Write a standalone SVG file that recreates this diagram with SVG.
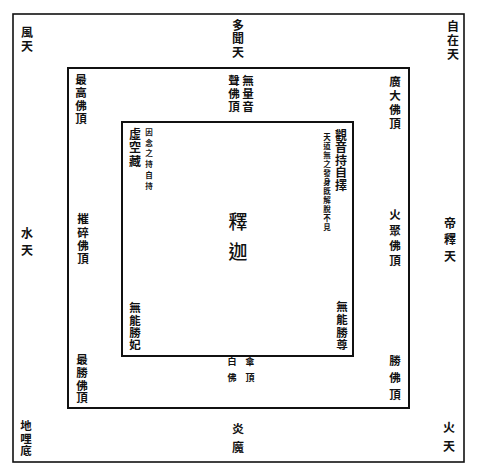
<svg xmlns="http://www.w3.org/2000/svg" width="477" height="476" viewBox="0 0 477 476">
<style>
.frame{fill:none;stroke:#111;stroke-linecap:square}
text{font-family:"Noto Sans CJK TC","Noto Sans CJK JP",sans-serif;fill:#111;font-weight:700;writing-mode:vertical-rl;text-anchor:start}
.l{font-size:12px}
.m{font-size:11.5px}
.s{font-size:7.5px}
.b{font-size:9px}
.c{font-size:19px;font-weight:500}
</style>
<rect width="477" height="476" fill="#fff"/>
<g id="frames">
<rect class="frame" x="13" y="14" width="451" height="448" stroke-width="1.6"/>
<rect class="frame" x="68" y="68" width="341" height="340" stroke-width="2"/>
<rect class="frame" x="122" y="122" width="231" height="234" stroke-width="2"/>
</g>
<g id="fuuten"><text class="l" x="27" y="26" letter-spacing="2">風天</text></g>
<g id="tamonten"><text class="l" x="238" y="19" letter-spacing="1.5">多聞天</text></g>
<g id="jizaiten"><text class="l" x="453" y="20" letter-spacing="2">自在天</text></g>
<g id="muryoonjo"><text class="m" x="248" y="75.25" letter-spacing="1.5">無量音</text><text class="m" x="234" y="75.25" letter-spacing="1.5">聲佛頂</text></g>
<g id="saiko"><text class="m" x="81" y="74.25" letter-spacing="1.5">最高佛頂</text></g>
<g id="kodai"><text class="m" x="395" y="76.25" letter-spacing="2.5">廣大佛頂</text></g>
<g id="kokuzo"><text class="l" x="135" y="128" letter-spacing="1.5">虛空藏</text><text class="s" x="149" y="128.25" letter-spacing="3.3">因念之持自持</text></g>
<g id="kannon"><text class="l" x="341" y="129" letter-spacing="0.5">觀音持自擇</text><text class="s" x="327" y="133.25" letter-spacing="1.5">天道無之發身既解脫不見</text></g>
<g id="saisai"><text class="m" x="83" y="213.25" letter-spacing="1.8">摧碎佛頂</text></g>
<g id="suiten"><text class="l" x="27" y="227" letter-spacing="5">水天</text></g>
<g id="kaju"><text class="m" x="395" y="209.25" letter-spacing="3.8">火聚佛頂</text></g>
<g id="taishakuten"><text class="l" x="450" y="217" letter-spacing="4.5">帝釋天</text></g>
<g id="shaka"><text class="c" x="238" y="212.5" letter-spacing="11">釋迦</text></g>
<g id="munoshohi"><text class="m" x="135" y="302.25" letter-spacing="0.8">無能勝妃</text></g>
<g id="saisho"><text class="m" x="82" y="354.25" letter-spacing="1.2">最勝佛頂</text></g>
<g id="munosho"><text class="m" x="342" y="301.25" letter-spacing="1.2">無能勝尊</text></g>
<g id="sho"><text class="m" x="395" y="355.25" letter-spacing="5.5">勝佛頂</text></g>
<g id="byakusan"><text class="b" x="250" y="357.5" letter-spacing="7">傘頂</text><text class="b" x="232" y="357.5" letter-spacing="7">白佛</text></g>
<g id="jiten"><text class="m" x="26" y="420.25" letter-spacing="1">地哩底</text></g>
<g id="enma"><text class="l" x="238" y="423" letter-spacing="6">炎魔</text></g>
<g id="katen"><text class="l" x="449" y="421" letter-spacing="7">火天</text></g>
</svg>
